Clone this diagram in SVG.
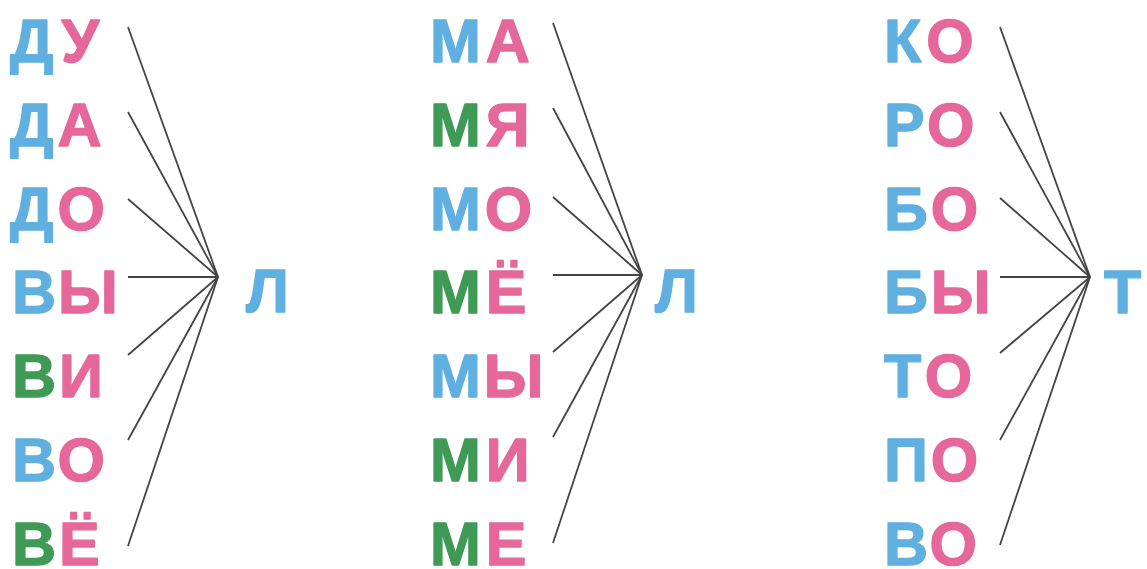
<svg xmlns="http://www.w3.org/2000/svg" width="1147" height="569" viewBox="0 0 1147 569">
<style>
text{font-family:"Liberation Sans",Arial,sans-serif;font-weight:bold;font-size:61px;stroke-width:1.4;stroke-linejoin:round}
.b{fill:#5fb0e0;stroke:#5fb0e0}.p{fill:#e6679a;stroke:#e6679a}.g{fill:#3f9a56;stroke:#3f9a56}
.c line{stroke:#444;stroke-width:1.8;fill:none}
</style>
<rect width="1147" height="569" fill="#fff"/>
<g id="col1">
<g id="n-du"><text x="10" y="62"><tspan class="b">Д</tspan><tspan class="p" dx="7">У</tspan></text></g>
<g id="n-da"><text x="10" y="146"><tspan class="b">Д</tspan><tspan class="p" dx="4">А</tspan></text></g>
<g id="n-do"><text x="10" y="230"><tspan class="b">Д</tspan><tspan class="p" dx="4">О</tspan></text></g>
<g id="n-vy"><text x="12" y="313"><tspan class="b">В</tspan><tspan class="p" dx="2">Ы</tspan></text></g>
<g id="n-vi"><text x="12" y="397"><tspan class="g">В</tspan><tspan class="p" dx="3">И</tspan></text></g>
<g id="n-vo"><text x="12" y="481"><tspan class="b">В</tspan><tspan class="p" dx="3">О</tspan></text></g>
<g id="n-vyo"><text x="12" y="565"><tspan class="g">В</tspan><tspan class="p" dx="3">Ё</tspan></text></g>
<g id="n-l1"><text x="246" y="312" class="b">Л</text></g>
</g>
<g id="col2">
<g id="n-ma"><text x="430" y="62"><tspan class="b">М</tspan><tspan class="p" dx="5">А</tspan></text></g>
<g id="n-mya"><text x="430" y="146"><tspan class="g">М</tspan><tspan class="p" dx="5">Я</tspan></text></g>
<g id="n-mo"><text x="430" y="230"><tspan class="b">М</tspan><tspan class="p" dx="4">О</tspan></text></g>
<g id="n-myo"><text x="430" y="313"><tspan class="g">М</tspan><tspan class="p" dx="5">Ё</tspan></text></g>
<g id="n-my"><text x="430" y="397"><tspan class="b">М</tspan><tspan class="p" dx="3">Ы</tspan></text></g>
<g id="n-mi"><text x="430" y="481"><tspan class="g">М</tspan><tspan class="p" dx="5">И</tspan></text></g>
<g id="n-me"><text x="430" y="565"><tspan class="g">М</tspan><tspan class="p" dx="5">Е</tspan></text></g>
<g id="n-l2"><text x="655" y="312" class="b">Л</text></g>
</g>
<g id="col3">
<g id="n-ko"><text x="884" y="62"><tspan class="b">К</tspan><tspan class="p" dx="5">О</tspan></text></g>
<g id="n-ro"><text x="884" y="146"><tspan class="b">Р</tspan><tspan class="p" dx="3">О</tspan></text></g>
<g id="n-bo"><text x="884" y="230"><tspan class="b">Б</tspan><tspan class="p" dx="3">О</tspan></text></g>
<g id="n-by"><text x="884" y="313"><tspan class="b">Б</tspan><tspan class="p" dx="3">Ы</tspan></text></g>
<g id="n-to"><text x="884" y="397"><tspan class="b">Т</tspan><tspan class="p" dx="5">О</tspan></text></g>
<g id="n-po"><text x="884" y="481"><tspan class="b">П</tspan><tspan class="p" dx="3">О</tspan></text></g>
<g id="n-vo2"><text x="884" y="565"><tspan class="b">В</tspan><tspan class="p" dx="3">О</tspan></text></g>
<g id="n-t"><text x="1104" y="313" class="b">Т</text></g>
</g>
<g id="connectors" class="c">
<line x1="128" y1="27" x2="218" y2="277"/>
<line x1="128" y1="112" x2="218" y2="277"/>
<line x1="128" y1="199" x2="218" y2="277"/>
<line x1="128" y1="277" x2="218" y2="277"/>
<line x1="128" y1="355" x2="218" y2="277"/>
<line x1="128" y1="440" x2="218" y2="277"/>
<line x1="128" y1="546" x2="218" y2="277"/>
<line x1="553" y1="23" x2="642" y2="275"/>
<line x1="553" y1="108" x2="642" y2="275"/>
<line x1="553" y1="197" x2="642" y2="275"/>
<line x1="553" y1="275" x2="642" y2="275"/>
<line x1="553" y1="352" x2="642" y2="275"/>
<line x1="553" y1="437" x2="642" y2="275"/>
<line x1="553" y1="543" x2="642" y2="275"/>
<line x1="1000" y1="27" x2="1090" y2="277"/>
<line x1="1000" y1="112" x2="1090" y2="277"/>
<line x1="1000" y1="198" x2="1090" y2="277"/>
<line x1="1000" y1="277" x2="1090" y2="277"/>
<line x1="1000" y1="353" x2="1090" y2="277"/>
<line x1="1000" y1="440" x2="1090" y2="277"/>
<line x1="1000" y1="545" x2="1090" y2="277"/>
</g>
</svg>
